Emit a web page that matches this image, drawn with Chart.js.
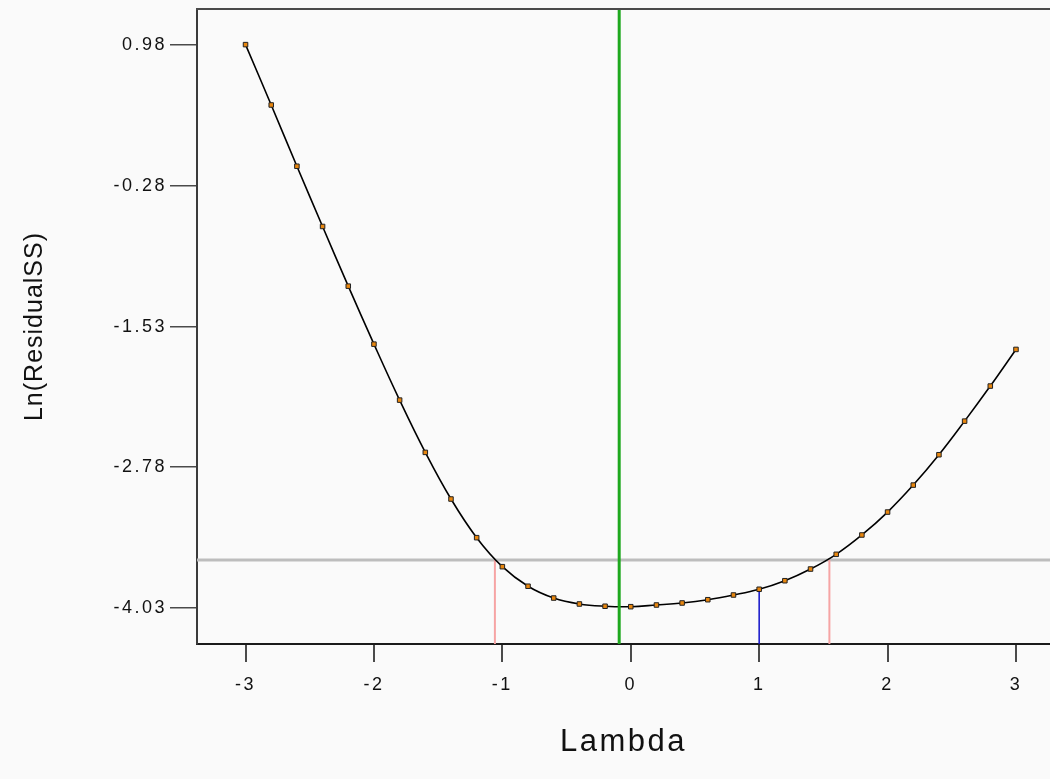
<!DOCTYPE html>
<html>
<head>
<meta charset="utf-8">
<script src="https://cdn.jsdelivr.net/npm/chart.js@4"></script>
<style>
html,body{margin:0;padding:0;background:#fafafa;}
#wrap{width:1050px;height:779px;position:relative;}
</style>
</head>
<body>
<div id="wrap"><canvas id="c" width="1050" height="779"></canvas></div>
<script>
// ---- data ----
const lambdas = [-3,-2.8,-2.6,-2.4,-2.2,-2,-1.8,-1.6,-1.4,-1.2,-1,-0.8,-0.6,-0.4,-0.2,0,0.2,0.4,0.6,0.8,1,1.2,1.4,1.6,1.8,2,2.2,2.4,2.6,2.8,3];
const lnResidualSS = [0.98,0.443,-0.102,-0.638,-1.169,-1.685,-2.183,-2.648,-3.063,-3.407,-3.665,-3.839,-3.944,-3.997,-4.017,-4.021,-4.006,-3.988,-3.959,-3.917,-3.866,-3.790,-3.686,-3.555,-3.383,-3.179,-2.939,-2.669,-2.370,-2.058,-1.732];
const xTicks = [-3,-2,-1,0,1,2,3];
const yTicks = [0.98,-0.28,-1.53,-2.78,-4.03];
const xRange = [-3.378,3.265];
const yRange = [-4.353,1.297];
const cutoff = -3.606;        // confidence cutoff (grey horizontal)
const lambdaBest = -0.09;     // estimated lambda (green)
const ciLow = -1.058, ciHigh = 1.547;  // CI limits (pink)
const lambdaRounded = 1.0, valueAtRounded = -3.866; // rounded lambda (blue)

const seg = (x1,y1,x2,y2)=>[{x:x1,y:y1},{x:x2,y:y2}];

// letter spacing depending on the font size in use (the reference text is wide)
const canvas = document.getElementById('c');
const ctx0 = canvas.getContext('2d');
const fontDesc = Object.getOwnPropertyDescriptor(CanvasRenderingContext2D.prototype,'font');
Object.defineProperty(ctx0,'font',{
  configurable:true,
  get(){ return fontDesc.get.call(this); },
  set(v){
    fontDesc.set.call(this,v);
    const m = /(\d+(?:\.\d+)?)px/.exec(v);
    const sz = m ? +m[1] : 12;
    this.letterSpacing = sz >= 28 ? '2.5px' : (sz >= 22 ? '1px' : '2.5px');
  }
});

const frame = {
  id:'frame',
  afterDraw(chart){
    const {ctx, chartArea:a} = chart;
    ctx.save();
    ctx.strokeStyle = '#4a4a4a';
    ctx.lineWidth = 2;
    ctx.beginPath(); ctx.moveTo(a.left-1, a.top); ctx.lineTo(a.right, a.top); ctx.stroke();
    ctx.restore();
  }
};

new Chart(canvas, {
  type:'scatter',
  data:{
    datasets:[
      {label:'best', data:seg(lambdaBest,yRange[0],lambdaBest,yRange[1]), showLine:true, borderColor:'#1ea81e', borderWidth:3, pointRadius:0, order:0},
      {label:'points', data:lambdas.map((x,i)=>({x, y:lnResidualSS[i]})), showLine:false, pointStyle:'rect', pointRadius:3.2, backgroundColor:'#e8860e', borderColor:'#222', borderWidth:1, order:1},
      {label:'curve', data:lambdas.map((x,i)=>({x, y:lnResidualSS[i]})), showLine:true, tension:0.4, borderColor:'#000', borderWidth:1.6, pointRadius:0, order:2},
      {label:'ciLow', data:seg(ciLow,yRange[0],ciLow,cutoff), showLine:true, borderColor:'#f6a4a4', borderWidth:2, pointRadius:0, order:3},
      {label:'ciHigh', data:seg(ciHigh,yRange[0],ciHigh,cutoff), showLine:true, borderColor:'#f6a4a4', borderWidth:2, pointRadius:0, order:3},
      {label:'rounded', data:seg(lambdaRounded,yRange[0],lambdaRounded,valueAtRounded), showLine:true, borderColor:'#1010c8', borderWidth:1.5, pointRadius:0, order:3},
      {label:'cutoff', data:seg(xRange[0],cutoff,xRange[1],cutoff), showLine:true, borderColor:'#bdbdbd', borderWidth:3, pointRadius:0, order:4}
    ]
  },
  options:{
    responsive:false,
    animation:false,
    layout:{autoPadding:false, padding:{top:9,left:0,right:0,bottom:0}},
    plugins:{legend:{display:false}, tooltip:{enabled:false}},
    scales:{
      x:{
        type:'linear', min:xRange[0], max:xRange[1],
        afterBuildTicks(s){ s.ticks = xTicks.map(v=>({value:v})); },
        afterFit(s){ s.height = 135; s.paddingLeft = 0; s.paddingRight = 0; },
        grid:{drawOnChartArea:false, drawTicks:true, tickLength:18, color:'#4a4a4a', lineWidth:2},
        border:{display:true, color:'#1a1a1a', width:2},
        ticks:{padding:12, color:'#111', font:{family:'Liberation Sans, Arial', size:18}, callback:v=>String(v)},
        title:{display:true, text:'Lambda', color:'#111', font:{family:'Liberation Sans, Arial', size:31}, padding:{top:0,bottom:18}}
      },
      y:{
        type:'linear', min:yRange[0], max:yRange[1],
        afterBuildTicks(s){ s.ticks = yTicks.map(v=>({value:v})); },
        afterFit(s){ s.width = 197; s.paddingTop = 0; s.paddingBottom = 0; },
        grid:{drawOnChartArea:false, drawTicks:true, tickLength:27, color:'#4a4a4a', lineWidth:1.5},
        border:{display:true, color:'#3a3a3a', width:2},
        ticks:{padding:3, color:'#111', font:{family:'Liberation Sans, Arial', size:18}, callback:v=>v.toFixed(2)},
        title:{display:true, text:'Ln(ResidualSS)', color:'#111', font:{family:'Liberation Sans, Arial', size:25}, padding:{top:20,bottom:0}}
      }
    }
  },
  plugins:[frame]
});
</script>
</body>
</html>
